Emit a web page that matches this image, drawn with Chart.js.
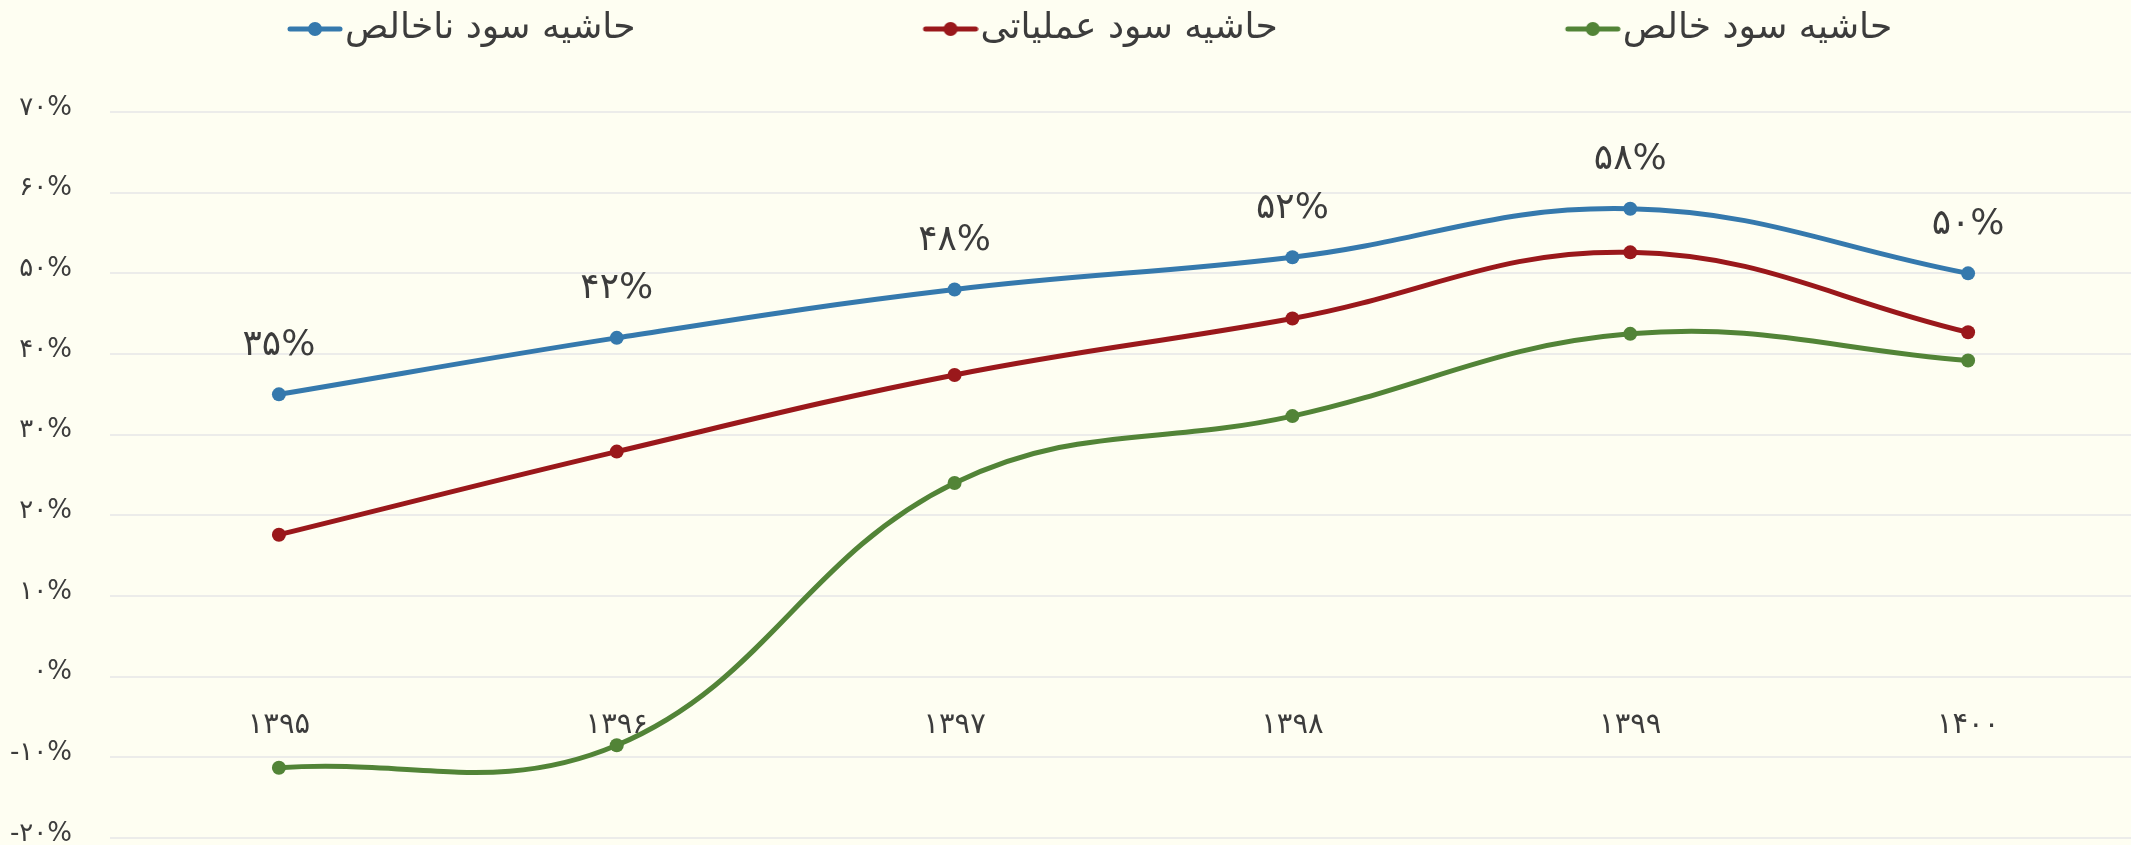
<!DOCTYPE html>
<html lang="fa">
<head>
<meta charset="utf-8">
<title>حاشیه سود</title>
<script src="https://cdn.jsdelivr.net/npm/chart.js@4.4.1/dist/chart.umd.min.js"></script>
<style>
  html, body { margin: 0; padding: 0; background: #fefef2; overflow: hidden; }
  canvas { display: block; }
</style>
</head>
<body>
<canvas id="chart" width="2144" height="845"></canvas>
<script>
// Fiscal years (Persian calendar)
const years = ['۱۳۹۵', '۱۳۹۶', '۱۳۹۷', '۱۳۹۸', '۱۳۹۹', '۱۴۰۰'];

// Margins, in percent
const grossMargin = [35, 42, 48, 52, 58, 50];
const operatingMargin = [17.6, 27.9, 37.4, 44.4, 52.6, 42.7];
const netMargin = [-11.3, -8.5, 24.0, 32.3, 42.5, 39.2];

const seriesNames = ['حاشیه سود ناخالص', 'حاشیه سود عملیاتی', 'حاشیه سود خالص'];
const seriesColors = ['#3579ad', '#9a181b', '#528437'];

// Value axis range
const yMin = -20;
const yMax = 70;
const yStep = 10;

const FONT = "'DejaVu Sans', sans-serif";
const TEXT = '#3c3c3c';
const BG = '#fefef2';

const faDigits = '۰۱۲۳۴۵۶۷۸۹';
const toFa = s => String(s).replace(/[0-9]/g, d => faDigits[d]);
const pct = v => toFa(v) + '%';

// Legend marker: a short line with a dot, at the right end of a wide transparent strip
function legendMarker(color, stripWidth) {
  const c = document.createElement('canvas');
  c.width = stripWidth;
  c.height = 20;
  const g = c.getContext('2d');
  const lineLen = 56;
  const x0 = stripWidth - lineLen;
  g.strokeStyle = color;
  g.lineWidth = 5;
  g.lineCap = 'round';
  g.beginPath();
  g.moveTo(x0 + 3, 10);
  g.lineTo(stripWidth - 3, 10);
  g.stroke();
  g.fillStyle = color;
  g.beginPath();
  g.arc(x0 + lineLen / 2, 10, 7, 0, Math.PI * 2);
  g.fill();
  return c;
}

const LEGEND_FONT = 36;
const LEGEND_PAD = 11;
const LEGEND_BOX = 316;
const markers = seriesColors.map(c => legendMarker(c, LEGEND_BOX + LEGEND_FONT - 4));

const background = {
  id: 'background',
  beforeDraw(chart) {
    const ctx = chart.ctx;
    ctx.save();
    ctx.fillStyle = BG;
    ctx.fillRect(0, 0, chart.width, chart.height);
    ctx.restore();
  }
};

// Value labels above the gross-margin points
const valueLabels = {
  id: 'valueLabels',
  afterDatasetsDraw(chart) {
    const ctx = chart.ctx;
    const meta = chart.getDatasetMeta(0);
    const data = chart.data.datasets[0].data;
    ctx.save();
    ctx.font = '36px ' + FONT;
    ctx.fillStyle = TEXT;
    ctx.textAlign = 'center';
    ctx.textBaseline = 'middle';
    meta.data.forEach((pt, i) => {
      ctx.fillText(pct(data[i]), pt.x, pt.y - 49);
    });
    ctx.restore();
  }
};

function lineDataset(label, data, color) {
  return {
    label,
    data,
    xAxisID: 'x',
    yAxisID: 'y',
    borderColor: color,
    backgroundColor: color,
    borderWidth: 5,
    pointRadius: 7,
    pointHoverRadius: 7,
    pointBorderWidth: 0,
    pointBackgroundColor: color,
    tension: 0.4,
    fill: false
  };
}

new Chart(document.getElementById('chart'), {
  type: 'line',
  data: {
    labels: years,
    datasets: [
      lineDataset(seriesNames[0], grossMargin, seriesColors[0]),
      lineDataset(seriesNames[1], operatingMargin, seriesColors[1]),
      lineDataset(seriesNames[2], netMargin, seriesColors[2])
    ]
  },
  options: {
    responsive: false,
    animation: false,
    devicePixelRatio: 1,
    layout: { padding: { left: 0, right: 0, top: 0, bottom: 7 } },
    plugins: {
      tooltip: { enabled: false },
      legend: {
        position: 'top',
        align: 'start',
        labels: {
          usePointStyle: true,
          pointStyleWidth: LEGEND_BOX,
          padding: LEGEND_PAD,
          color: TEXT,
          font: { family: FONT, size: LEGEND_FONT },
          generateLabels(chart) {
            const items = Chart.defaults.plugins.legend.labels.generateLabels(chart);
            items.forEach((it, i) => { it.pointStyle = markers[i]; });
            return items;
          }
        }
      }
    },
    scales: {
      x: {
        type: 'category',
        position: { y: 0 },
        offset: true,
        grid: { display: false, drawTicks: false },
        border: { display: false },
        ticks: {
          color: TEXT,
          padding: 31,
          maxRotation: 0,
          font: { family: FONT, size: 29 }
        },
        afterFit(scale) {
          scale.height = 0;
          scale.paddingLeft = 0;
          scale.paddingRight = 0;
        }
      },
      // empty band between the legend and the plot area
      band: {
        type: 'category',
        position: 'top',
        grid: { display: false, drawTicks: false },
        border: { display: false },
        ticks: { display: false },
        afterFit(scale) {
          scale.height = 55;
          scale.paddingLeft = 0;
          scale.paddingRight = 0;
        }
      },
      y: {
        min: yMin,
        max: yMax,
        grid: { color: '#ececea', lineWidth: 2, drawTicks: false },
        border: { display: false },
        ticks: {
          stepSize: yStep,
          color: TEXT,
          padding: 38,
          labelOffset: -4,
          font: { family: FONT, size: 26 },
          callback: v => pct(v)
        },
        afterFit(scale) {
          scale.width = 110;
          scale.paddingTop = 0;
          scale.paddingBottom = 7;
        }
      }
    }
  },
  plugins: [background, valueLabels]
});
</script>
</body>
</html>
